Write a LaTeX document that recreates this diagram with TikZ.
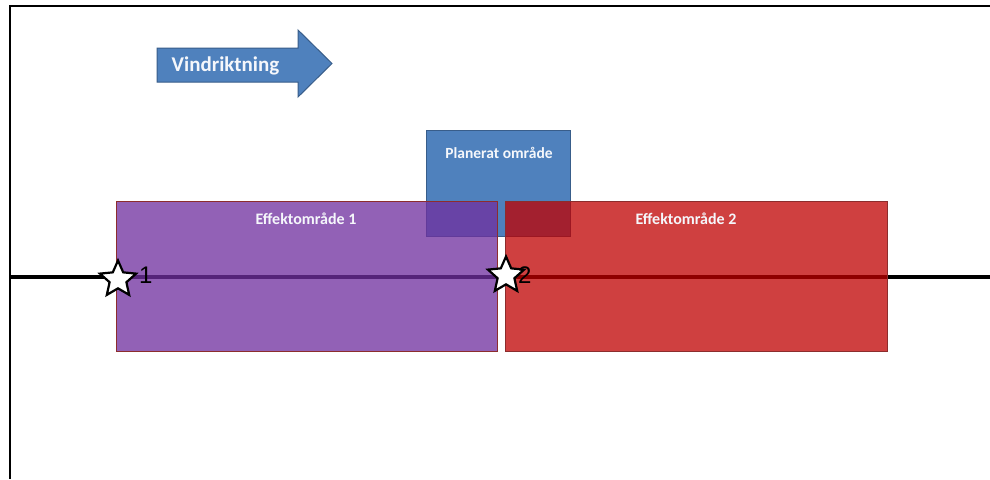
\documentclass[tikz,border=0pt]{standalone}
\usepackage{fontspec}
\setmainfont{Carlito}
\newfontfamily\arialfont{Liberation Sans}
\usetikzlibrary{shapes.geometric}
\definecolor{pblue}{RGB}{79,129,189}
\definecolor{pbluedark}{RGB}{56,93,138}
\definecolor{ppurple}{RGB}{112,48,160}
\definecolor{pred}{RGB}{192,0,0}
\definecolor{pborder}{RGB}{140,45,45}
\tikzset{
  frameline/.style={line width=2pt, black},
  axisline/.style={line width=4pt, black},
  bluebox/.style={draw=pbluedark, line width=0.8pt, fill=pblue},
  whitetext/.style={text=white!94!pblue, inner sep=0pt, anchor=base},
  starmark/.style={star, star points=5, star point ratio=2.15, minimum size=38pt, inner sep=0pt, draw=black, line width=2.2pt, fill=white},
  numlabel/.style={font=\arialfont\fontsize{24}{27}\selectfont, inner sep=0pt, text=black, anchor=base west}
}
\begin{document}
\begin{tikzpicture}[x=1pt, y=-1pt]
\useasboundingbox[fill=white] (0,0) rectangle (990,479);
% frame
\coordinate (ftr) at (990,6);
\coordinate (ftl) at (10,6);
\coordinate (fbl) at (10,479);
\draw[frameline] (ftr) -- (ftl) -- (fbl);
% axis
\coordinate (al) at (10,277);
\coordinate (ar) at (990,277);
\draw[axisline] (al) -- (ar);
% wind arrow
\draw[bluebox, line width=1pt] (157,48) -- (298,48) -- (298,30) -- (332,63.5) -- (298,97) -- (298,82) -- (157,82) -- cycle;
\node[whitetext, font=\bfseries\fontsize{21}{24}\selectfont] (wind) at (225.5,71) {Vindriktning};
% planned area
\draw[bluebox] (426,130) rectangle (570,236);
\node[whitetext, font=\bfseries\fontsize{15.5}{18}\selectfont] (plan) at (499,158) {Planerat område};
% effect zones
\fill[ppurple, fill opacity=0.76] (116,201) rectangle (497,351);
\draw[pborder, line width=1pt] (116,201) rectangle (497,351);
\fill[pred, fill opacity=0.75] (505,201) rectangle (887,351);
\draw[pborder, line width=1pt] (505,201) rectangle (887,351);
\node[whitetext, font=\bfseries\fontsize{16}{18}\selectfont] (eff1) at (306,224) {Effektområde 1};
\node[whitetext, font=\bfseries\fontsize{16}{18}\selectfont] (eff2) at (686,224) {Effektområde 2};
% stars
\node[starmark] (s1) at (118,279.5) {};
\node[starmark] (s2) at (506,275.5) {};
\node[numlabel] (n1) at (139,283) {1};
\node[numlabel] (n2) at (518,283) {2};
\end{tikzpicture}
\end{document}
